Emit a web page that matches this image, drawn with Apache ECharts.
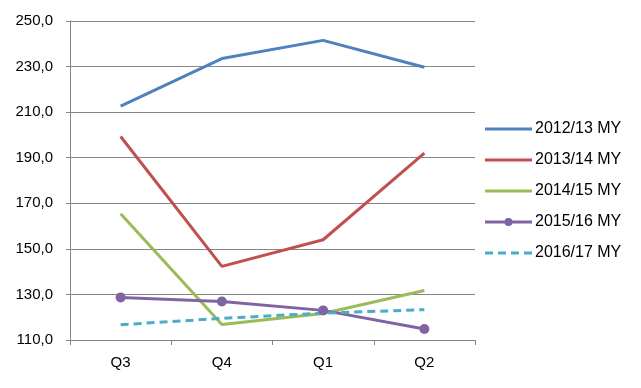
<!DOCTYPE html>
<html><head><meta charset="utf-8">
<script src="https://cdn.jsdelivr.net/npm/echarts@6/dist/echarts.min.js"></script>
<style>html,body{margin:0;padding:0;background:#fff}#c{width:641px;height:388px}</style>
</head><body><div id="c"></div>
<script>
const categories = ['Q3', 'Q4', 'Q1', 'Q2'];
const seriesNames = ['2012/13 MY', '2013/14 MY', '2014/15 MY', '2015/16 MY', '2016/17 MY'];
const s2012 = [212.6, 233.5, 241.5, 229.7];
const s2013 = [199.3, 142.3, 154.0, 192.0];
const s2014 = [165.4, 116.8, 121.6, 131.7];
const s2015 = [128.7, 126.9, 123.0, 114.8];
const s2016 = [116.7, 119.5, 121.8, 123.3];
const yTicks = [110, 130, 150, 170, 190, 210, 230, 250];

const colors = ['#4F81BD', '#C0504D', '#9BBB59', '#8064A2', '#4BACC6'];
const data = [s2012, s2013, s2014, s2015, s2016];
const font = 'Liberation Sans, Arial, sans-serif';
const solidIcon = 'path://M0,0H47V3H0Z';
const dashIcon = 'path://M0,0H8V3H0Z M13,0H21V3H13Z M26,0H34V3H26Z M39,0H47V3H39Z';
const markerIcon = 'path://M0,5H47V8H0Z M19.5,6.5A4,4 0 1,1 27.5,6.5A4,4 0 1,1 19.5,6.5Z';

const chart = echarts.init(document.getElementById('c'), null, {renderer: 'canvas'});
chart.setOption({
  animation: false,
  backgroundColor: '#fff',
  grid: {left: 70, right: 166, top: 21, bottom: 48, containLabel: false},
  xAxis: {
    type: 'category', data: categories, boundaryGap: true,
    axisLine: {lineStyle: {color: '#868686', width: 1}},
    axisTick: {show: true, length: 5, lineStyle: {color: '#868686'}},
    axisLabel: {color: '#000', fontFamily: font, fontSize: 15, margin: 15}
  },
  yAxis: {
    type: 'value', min: yTicks[0], max: yTicks[yTicks.length - 1], interval: 20,
    axisLine: {show: true, lineStyle: {color: '#868686'}},
    axisTick: {show: true, length: 4, lineStyle: {color: '#868686'}},
    splitLine: {lineStyle: {color: '#868686', width: 1}},
    axisLabel: {color: '#000', fontFamily: font, fontSize: 15, margin: 17,
      formatter: v => v.toFixed(1).replace('.', ',')}
  },
  legend: {
    orient: 'vertical', left: 480, top: 116, itemGap: 15,
    itemWidth: 47, itemHeight: 14, symbolKeepAspect: true,
    textStyle: {color: '#000', fontFamily: font, fontSize: 16, lineHeight: 14, padding: [0, 0, 0, -2]},
    data: seriesNames.map((n, i) => ({name: n, icon: i === 4 ? dashIcon : (i === 3 ? markerIcon : solidIcon)}))
  },
  series: data.map((d, i) => ({
    name: seriesNames[i], type: 'line', data: d,
    symbol: i === 3 ? 'circle' : 'none', symbolSize: 10, showSymbol: i === 3,
    itemStyle: {color: colors[i]},
    lineStyle: {color: colors[i], width: 3, type: i === 4 ? [8, 5] : 'solid'},
    emphasis: {disabled: true}
  }))
});
</script></body></html>
